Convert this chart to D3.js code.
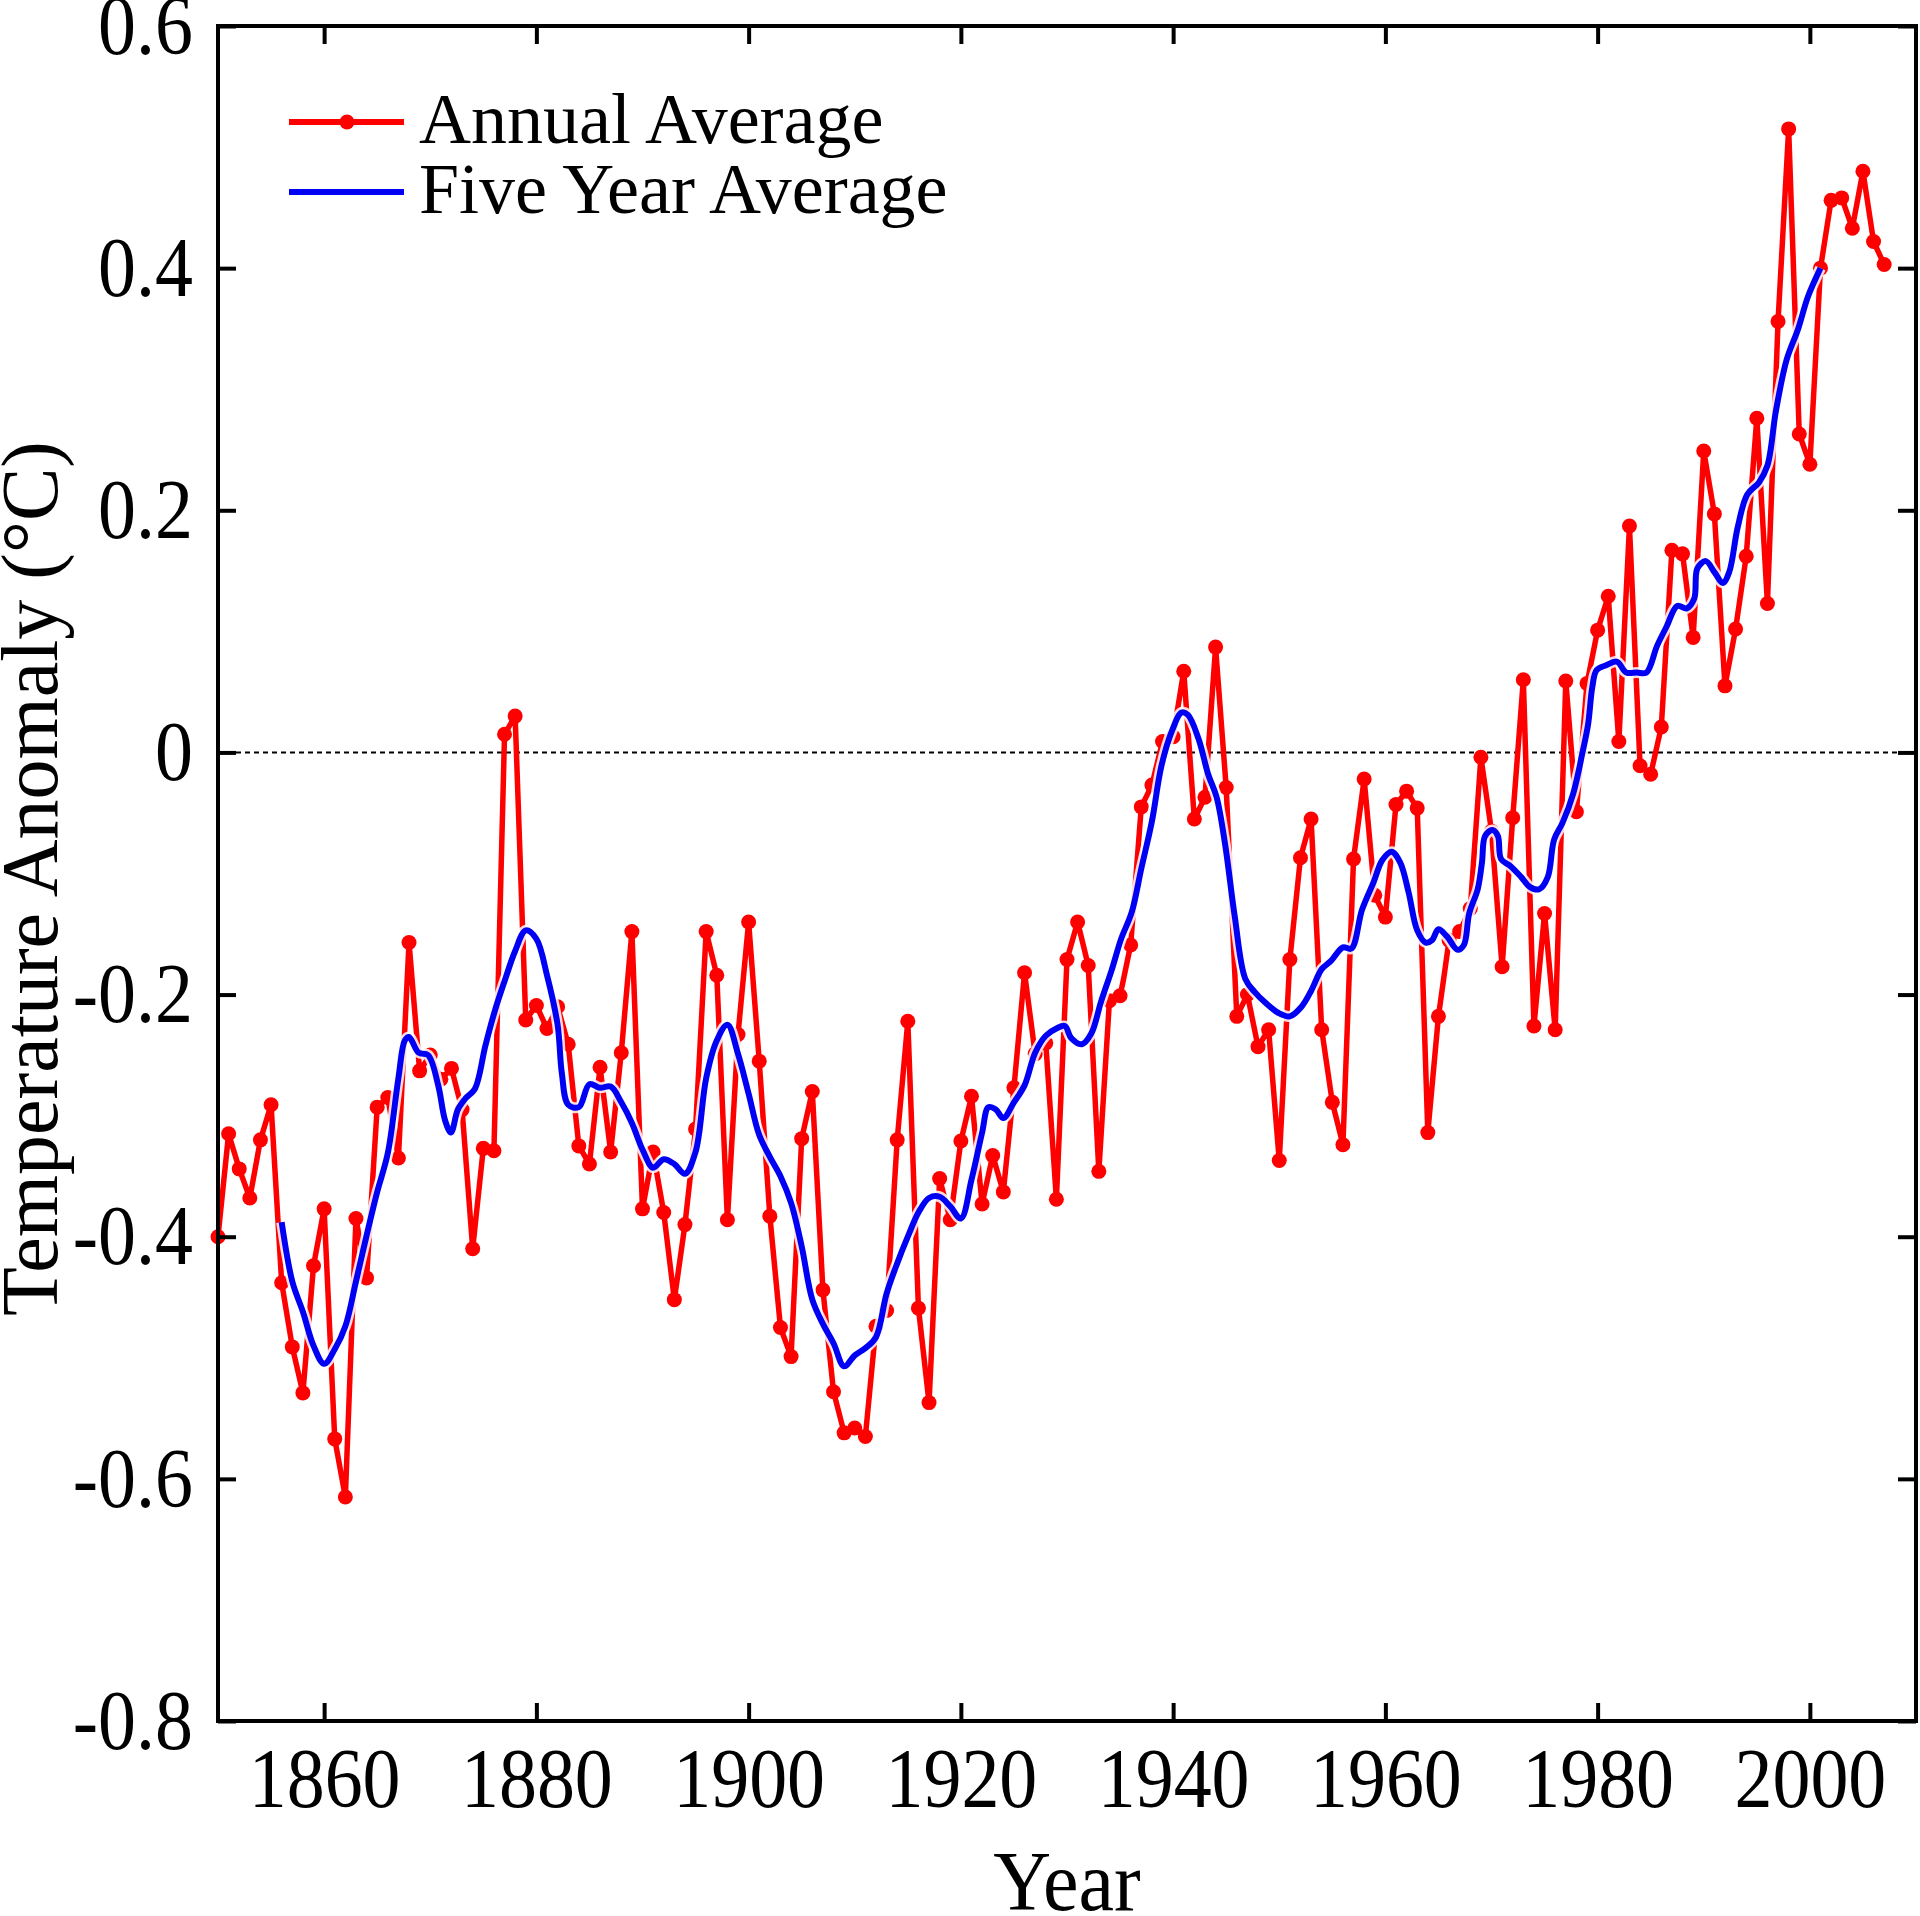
<!DOCTYPE html>
<html>
<head>
<meta charset="utf-8">
<script src="https://cdn.jsdelivr.net/npm/d3@7"></script>
<style>
  body { margin: 0; background: #fff; }
  svg { display: block; }
  text { font-family: "Liberation Serif", "Times New Roman", serif; fill: #000; }
</style>
</head>
<body>
<svg id="chart" width="1920" height="1916"></svg>
<script>
// ── Data ──────────────────────────────────────────────────────────
const START_YEAR = 1850;

// annual global temperature anomaly, 1850..2007
const annualValues = [
  -0.400, -0.315, -0.344, -0.368, -0.320, -0.291, -0.438, -0.491, -0.529, -0.424,
  -0.377, -0.567, -0.615, -0.385, -0.434, -0.293, -0.285, -0.335, -0.157, -0.263,
  -0.250, -0.270, -0.261, -0.295, -0.410, -0.327, -0.329,  0.015,  0.030, -0.221,
  -0.209, -0.228, -0.210, -0.241, -0.325, -0.340, -0.260, -0.330, -0.248, -0.148,
  -0.377, -0.330, -0.380, -0.452, -0.390, -0.311, -0.148, -0.184, -0.386, -0.233,
  -0.140, -0.255, -0.383, -0.475, -0.499, -0.319, -0.280, -0.444, -0.528, -0.562,
  -0.558, -0.565, -0.474, -0.461, -0.320, -0.222, -0.459, -0.537, -0.352, -0.386,
  -0.321, -0.284, -0.373, -0.333, -0.363, -0.277, -0.182, -0.249, -0.240, -0.369,
  -0.171, -0.140, -0.176, -0.346, -0.205, -0.201, -0.159, -0.045, -0.027,  0.009,
   0.013,  0.067, -0.055, -0.037,  0.087, -0.029, -0.218, -0.200, -0.243, -0.229,
  -0.337, -0.171, -0.087, -0.055, -0.229, -0.289, -0.324, -0.088, -0.022, -0.118,
  -0.136, -0.043, -0.032, -0.046, -0.314, -0.218, -0.155, -0.148, -0.129, -0.004,
  -0.065, -0.177, -0.054,  0.060, -0.226, -0.133, -0.229,  0.059, -0.049,  0.057,
   0.101,  0.129,  0.009,  0.187, -0.011, -0.018,  0.021,  0.167,  0.164,  0.095,
   0.249,  0.197,  0.055,  0.102,  0.162,  0.276,  0.123,  0.356,  0.515,  0.263,
   0.238,  0.400,  0.456,  0.458,  0.433,  0.480,  0.422,  0.403
];

// five year average curve, sampled along its path
const smoothYears = [
  1856, 1857, 1858, 1859, 1860, 1861, 1862, 1863, 1864, 1865,
  1866, 1867, 1867.6, 1868, 1868.9, 1869.8, 1870.75, 1871.4, 1871.95, 1872.6,
  1873.3, 1874.2, 1875.2, 1876.1, 1877, 1878, 1879, 1880, 1881, 1882,
  1882.4, 1883, 1884, 1885, 1886, 1887, 1888, 1889, 1890, 1891,
  1892, 1893, 1894, 1895, 1896, 1897, 1898, 1899, 1900, 1901,
  1902, 1903, 1904, 1905, 1906, 1907, 1908, 1909, 1910, 1911,
  1912, 1913, 1914, 1915, 1916, 1917, 1918, 1919, 1920, 1921,
  1922, 1922.6, 1923.3, 1924, 1925, 1926, 1927, 1928, 1929, 1929.8,
  1930.4, 1931.4, 1932.3, 1933.2, 1934.2, 1935.1, 1936.1, 1937, 1938, 1938.9,
  1939.9, 1940.8, 1941.4, 1942.4, 1943.3, 1944.1, 1944.9, 1945.8, 1946.8, 1947.7,
  1948.6, 1949.9, 1951, 1952.1, 1953, 1954, 1954.9, 1956, 1956.8, 1957.8,
  1958.9, 1959.7, 1960.6, 1961.4, 1962.2, 1963, 1963.8, 1964.4, 1965, 1965.8,
  1966.8, 1967.4, 1967.9, 1968.7, 1969.1, 1969.4, 1970.1, 1970.6, 1970.9, 1971.8,
  1972.8, 1973.6, 1974.5, 1975.3, 1975.9, 1976.7, 1977.7, 1978.6, 1979.1, 1979.5,
  1979.9, 1980.8, 1981.8, 1982.7, 1983.7, 1984.6, 1985.6, 1986.5, 1987.5, 1988.4,
  1989.1, 1989.4, 1990.2, 1991, 1991.8, 1992.4, 1993.2, 1994.1, 1995.2, 1996,
  1996.8, 1997.8, 1998.9, 1999.8, 2001
];
const smoothValues = [
  -0.388, -0.437, -0.462, -0.490, -0.505, -0.493, -0.474, -0.437, -0.399, -0.363,
  -0.331, -0.269, -0.238, -0.235, -0.248, -0.250, -0.275, -0.304, -0.314, -0.295,
  -0.286, -0.278, -0.242, -0.213, -0.189, -0.164, -0.147, -0.154, -0.184, -0.225,
  -0.265, -0.291, -0.293, -0.274, -0.277, -0.276, -0.289, -0.306, -0.328, -0.343,
  -0.336, -0.340, -0.348, -0.330, -0.269, -0.238, -0.225, -0.249, -0.282, -0.316,
  -0.334, -0.350, -0.372, -0.408, -0.452, -0.472, -0.488, -0.507, -0.498, -0.492,
  -0.483, -0.447, -0.422, -0.400, -0.380, -0.368, -0.367, -0.375, -0.385, -0.353,
  -0.314, -0.293, -0.295, -0.302, -0.289, -0.275, -0.248, -0.234, -0.228, -0.226,
  -0.236, -0.241, -0.232, -0.206, -0.180, -0.154, -0.132, -0.096, -0.057, -0.011,
   0.018,  0.033,  0.031,  0.011, -0.018, -0.037, -0.076, -0.135, -0.187, -0.198,
  -0.206, -0.215, -0.218, -0.210, -0.197, -0.179, -0.172, -0.161, -0.162, -0.130,
  -0.107, -0.089, -0.082, -0.091, -0.116, -0.147, -0.157, -0.155, -0.146, -0.152,
  -0.163, -0.159, -0.133, -0.113, -0.091, -0.069, -0.064, -0.069, -0.088, -0.094,
  -0.103, -0.111, -0.113, -0.103, -0.072, -0.058, -0.034,  0.001,  0.023,  0.054,
   0.068,  0.072,  0.075,  0.066,  0.066,  0.066,  0.088,  0.104,  0.121,  0.119,
   0.127,  0.152,  0.158,  0.149,  0.140,  0.149,  0.186,  0.213,  0.223,  0.237,
   0.282,  0.324,  0.350,  0.376,  0.400
];

const xTicks = [1860, 1880, 1900, 1920, 1940, 1960, 1980, 2000];
const yTicks = [-0.8, -0.6, -0.4, -0.2, 0, 0.2, 0.4, 0.6];
const legendLabels = ['Annual Average', 'Five Year Average'];

// ── Layout ────────────────────────────────────────────────────────
const plot = { left: 218, right: 1916, top: 26, bottom: 1721 };
const RED = '#ff0000';
const BLUE = '#0000f5';
const TICK_LEN = 18;
const TICK_FONT = 76;
const STRETCH = 1.12;   // reference glyphs are a bit taller than plain Times

const svg = d3.select('#chart');

const x = d3.scaleLinear().domain([1850, 2010]).range([plot.left, plot.right]);
const y = d3.scaleLinear().domain([-0.8, 0.6]).range([plot.bottom, plot.top]);

const annual = annualValues.map((v, i) => ({ year: START_YEAR + i, value: v }));
const smooth = smoothYears.map((yr, i) => ({ year: yr, value: smoothValues[i] }));

// ── Zero reference line ──────────────────────────────────────────
svg.append('line')
  .attr('x1', plot.left).attr('x2', plot.right)
  .attr('y1', y(0)).attr('y2', y(0))
  .attr('stroke', '#000')
  .attr('stroke-width', 2)
  .attr('stroke-dasharray', '5 4');

// ── Annual series ────────────────────────────────────────────────
const lineAnnual = d3.line()
  .x(d => x(d.year))
  .y(d => y(d.value));

svg.append('path')
  .datum(annual)
  .attr('d', lineAnnual)
  .attr('fill', 'none')
  .attr('stroke', RED)
  .attr('stroke-width', 5.5)
  .attr('stroke-linejoin', 'round');

svg.append('g')
  .selectAll('circle')
  .data(annual)
  .join('circle')
    .attr('cx', d => x(d.year))
    .attr('cy', d => y(d.value))
    .attr('r', 7.5)
    .attr('fill', RED);

// ── Five year average (white halo under blue) ────────────────────
const lineSmooth = d3.line()
  .x(d => x(d.year))
  .y(d => y(d.value))
  .curve(d3.curveCatmullRom.alpha(0.5));

svg.append('path')
  .datum(smooth)
  .attr('d', lineSmooth)
  .attr('fill', 'none')
  .attr('stroke', '#fff')
  .attr('stroke-opacity', 0.85)
  .attr('stroke-width', 11)
  .attr('stroke-linejoin', 'round');

svg.append('path')
  .datum(smooth)
  .attr('d', lineSmooth)
  .attr('fill', 'none')
  .attr('stroke', BLUE)
  .attr('stroke-width', 6)
  .attr('stroke-linejoin', 'round');

// ── Axes (inward ticks on all four sides) ────────────────────────
function styleAxis(g) {
  g.select('.domain').remove();
  g.selectAll('.tick line').attr('stroke', '#000').attr('stroke-width', 4);
  g.selectAll('.tick text')
    .attr('font-family', '"Liberation Serif", "Times New Roman", serif')
    .attr('font-size', TICK_FONT)
    .attr('fill', '#000')
    .attr('transform', `scale(1,${STRETCH})`);
  g.attr('font-family', null).attr('font-size', null);
}

const yFmt = d => d === 0 ? '0' : d3.format('.1f')(d).replace('−', '-');

svg.append('g')
  .attr('transform', `translate(0,${plot.bottom})`)
  .call(d3.axisBottom(x).tickValues(xTicks).tickFormat(d3.format('d'))
    .tickSizeInner(-TICK_LEN).tickSizeOuter(0).tickPadding(23))
  .call(styleAxis);

svg.append('g')
  .attr('transform', `translate(0,${plot.top})`)
  .call(d3.axisTop(x).tickValues(xTicks).tickFormat('')
    .tickSizeInner(-TICK_LEN).tickSizeOuter(0))
  .call(styleAxis);

svg.append('g')
  .attr('transform', `translate(${plot.left},0)`)
  .call(d3.axisLeft(y).tickValues(yTicks).tickFormat(yFmt)
    .tickSizeInner(-TICK_LEN).tickSizeOuter(0).tickPadding(25))
  .call(styleAxis);

svg.append('g')
  .attr('transform', `translate(${plot.right},0)`)
  .call(d3.axisRight(y).tickValues(yTicks).tickFormat('')
    .tickSizeInner(-TICK_LEN).tickSizeOuter(0))
  .call(styleAxis);

// plot frame
svg.append('rect')
  .attr('x', plot.left).attr('y', plot.top)
  .attr('width', plot.right - plot.left)
  .attr('height', plot.bottom - plot.top)
  .attr('fill', 'none')
  .attr('stroke', '#000')
  .attr('stroke-width', 4);

// ── Axis titles ──────────────────────────────────────────────────
svg.append('text')
  .attr('transform', `translate(${(plot.left + plot.right) / 2},1910) scale(1,1.05)`)
  .attr('text-anchor', 'middle')
  .attr('font-size', 80)
  .text('Year');

svg.append('text')
  .attr('transform', `translate(57,${(plot.top + plot.bottom) / 2 + 5}) rotate(-90)`)
  .attr('text-anchor', 'middle')
  .attr('font-size', 80)
  .text('Temperature Anomaly (°C)');

// ── Legend ───────────────────────────────────────────────────────
const legend = svg.append('g').attr('transform', 'translate(289,122)');
const legendRows = legend.selectAll('g')
  .data(legendLabels)
  .join('g')
    .attr('transform', (d, i) => `translate(0,${i * 70})`);

legendRows.append('line')
  .attr('x1', 0).attr('x2', 115)
  .attr('stroke', (d, i) => i === 0 ? RED : BLUE)
  .attr('stroke-width', 6);

legendRows.filter((d, i) => i === 0)
  .append('circle')
    .attr('cx', 58).attr('r', 7.5)
    .attr('fill', RED);

legendRows.append('text')
  .attr('x', 130)
  .attr('y', 21)
  .attr('font-size', 72)
  .text(d => d);
</script>
</body>
</html>
